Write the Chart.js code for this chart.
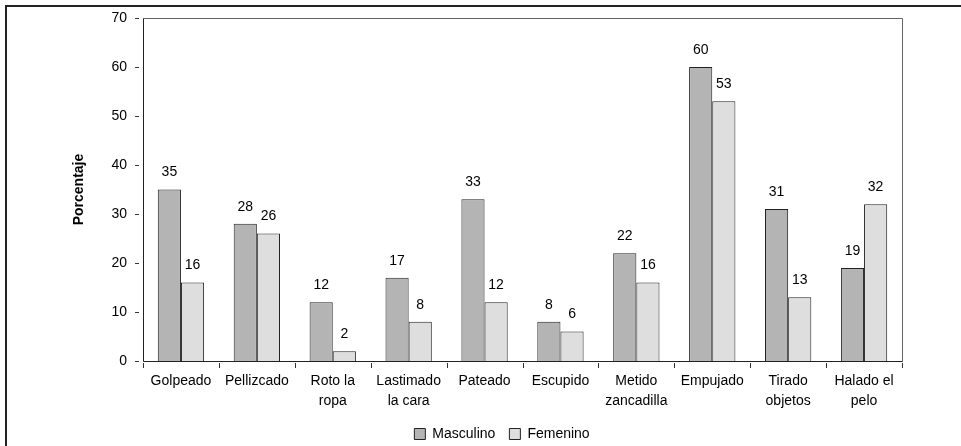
<!DOCTYPE html>
<html>
<head>
<meta charset="utf-8">
<script src="https://cdn.jsdelivr.net/npm/chart.js@4/dist/chart.umd.min.js"></script>
<style>
  html, body { margin: 0; padding: 0; background: #fff; }
  #wrap { position: relative; width: 961px; height: 446px; }
</style>
</head>
<body>
<div id="wrap"><canvas id="c" width="961" height="446"></canvas></div>
<script>
// Tipos de agresión reportados, por sexo (%)
const categories = [
  ['Golpeado'], ['Pellizcado'], ['Roto la', 'ropa'], ['Lastimado', 'la cara'],
  ['Pateado'], ['Escupido'], ['Metido', 'zancadilla'], ['Empujado'],
  ['Tirado', 'objetos'], ['Halado el', 'pelo']
];
const masculino = [35, 28, 12, 17, 33, 8, 22, 60, 31, 19];
const femenino  = [16, 26, 2, 8, 12, 6, 16, 53, 13, 32];
const yTicks = [0, 10, 20, 30, 40, 50, 60, 70];

const FONT = 'Liberation Sans, Arial, sans-serif';
const FS = 14;

// Frame around the figure, plot box, detached tick marks and value labels
const decorations = {
  id: 'decorations',
  afterLayout(chart) {
    // legend sits a little right of the plot centre and near the bottom edge
    const lg = chart.legend;
    const dx = 51, dy = 5;
    lg.left += dx; lg.right += dx;
    lg.top += dy; lg.bottom += dy;
    (lg.legendHitBoxes || []).forEach(b => { b.left += dx; b.top += dy; });
  },
  beforeDraw(chart) {
    const ctx = chart.ctx;
    ctx.save();
    ctx.strokeStyle = '#222';
    ctx.lineWidth = 2;
    ctx.beginPath();
    ctx.moveTo(6, 446);
    ctx.lineTo(6, 6);
    ctx.lineTo(961, 6);
    ctx.stroke();
    ctx.restore();
  },
  afterDatasetsDraw(chart) {
    const ctx = chart.ctx;
    const a = chart.chartArea;
    const y = chart.scales.y;
    ctx.save();
    // plot box
    ctx.lineWidth = 1;
    ctx.strokeStyle = '#666';
    ctx.beginPath();
    ctx.moveTo(a.left + 0.5, a.top + 0.5);
    ctx.lineTo(a.right + 0.5, a.top + 0.5);
    ctx.lineTo(a.right + 0.5, a.bottom + 0.5);
    ctx.stroke();
    ctx.strokeStyle = '#222';
    ctx.beginPath();
    ctx.moveTo(a.left + 0.5, a.top + 0.5);
    ctx.lineTo(a.left + 0.5, a.bottom + 0.5);
    ctx.lineTo(a.right + 0.5, a.bottom + 0.5);
    ctx.stroke();
    // y tick marks, set apart from the axis
    ctx.strokeStyle = '#333';
    yTicks.forEach(v => {
      const py = Math.round(y.getPixelForValue(v)) + 0.5;
      ctx.beginPath();
      ctx.moveTo(a.left - 8, py);
      ctx.lineTo(a.left - 4, py);
      ctx.stroke();
    });
    // x tick marks at category boundaries
    const n = categories.length;
    for (let i = 0; i <= n; i++) {
      const px = Math.round(a.left + (a.right - a.left) * i / n) + 0.5;
      ctx.beginPath();
      ctx.moveTo(px, a.bottom + 2);
      ctx.lineTo(px, a.bottom + 7);
      ctx.stroke();
    }
    // value labels above bars
    ctx.fillStyle = '#000';
    ctx.font = FS + 'px ' + FONT;
    ctx.textAlign = 'center';
    ctx.textBaseline = 'middle';
    chart.data.datasets.forEach((ds, di) => {
      const meta = chart.getDatasetMeta(di);
      meta.data.forEach((bar, i) => {
        ctx.fillText(String(ds.data[i]), bar.x, bar.y - 17);
      });
    });
    ctx.restore();
  }
};

new Chart(document.getElementById('c'), {
  type: 'bar',
  data: {
    labels: categories,
    datasets: [
      {
        label: 'Masculino',
        data: masculino,
        backgroundColor: '#b4b4b4',
        borderColor: '#222',
        borderWidth: 1,
        categoryPercentage: 0.61,
        barPercentage: 1.0
      },
      {
        label: 'Femenino',
        data: femenino,
        backgroundColor: '#dedede',
        borderColor: '#222',
        borderWidth: 1,
        categoryPercentage: 0.61,
        barPercentage: 1.0
      }
    ]
  },
  options: {
    responsive: false,
    animation: false,
    layout: { padding: { top: 18, right: 59, bottom: 0, left: 0 } },
    plugins: {
      tooltip: { enabled: false },
      legend: {
        position: 'bottom',
        labels: {
          color: '#000',
          font: { family: FONT, size: FS },
          boxWidth: 11,
          boxHeight: 11,
          padding: 14
        }
      }
    },
    scales: {
      x: {
        grid: { display: false, drawTicks: false },
        border: { display: false },
        ticks: {
          color: '#000',
          font: { family: FONT, size: FS, lineHeight: 1.45 },
          padding: 10,
          maxRotation: 0,
          autoSkip: false
        },
        afterFit(s) { s.height = 47; }
      },
      y: {
        min: 0,
        max: 70,
        afterBuildTicks(s) { s.ticks = yTicks.map(v => ({ value: v })); },
        grid: { display: false, drawTicks: false },
        border: { display: false },
        ticks: {
          color: '#000',
          font: { family: FONT, size: FS },
          padding: 16
        },
        title: {
          display: true,
          text: 'Porcentaje',
          color: '#000',
          font: { family: FONT, size: FS, weight: 'bold' },
          padding: { top: 71, bottom: 0 }
        },
        afterFit(s) {
          s.width = 143;
          s.paddingTop = 0;
          s.paddingBottom = 0;
        }
      }
    }
  },
  plugins: [decorations]
});
</script>
</body>
</html>
